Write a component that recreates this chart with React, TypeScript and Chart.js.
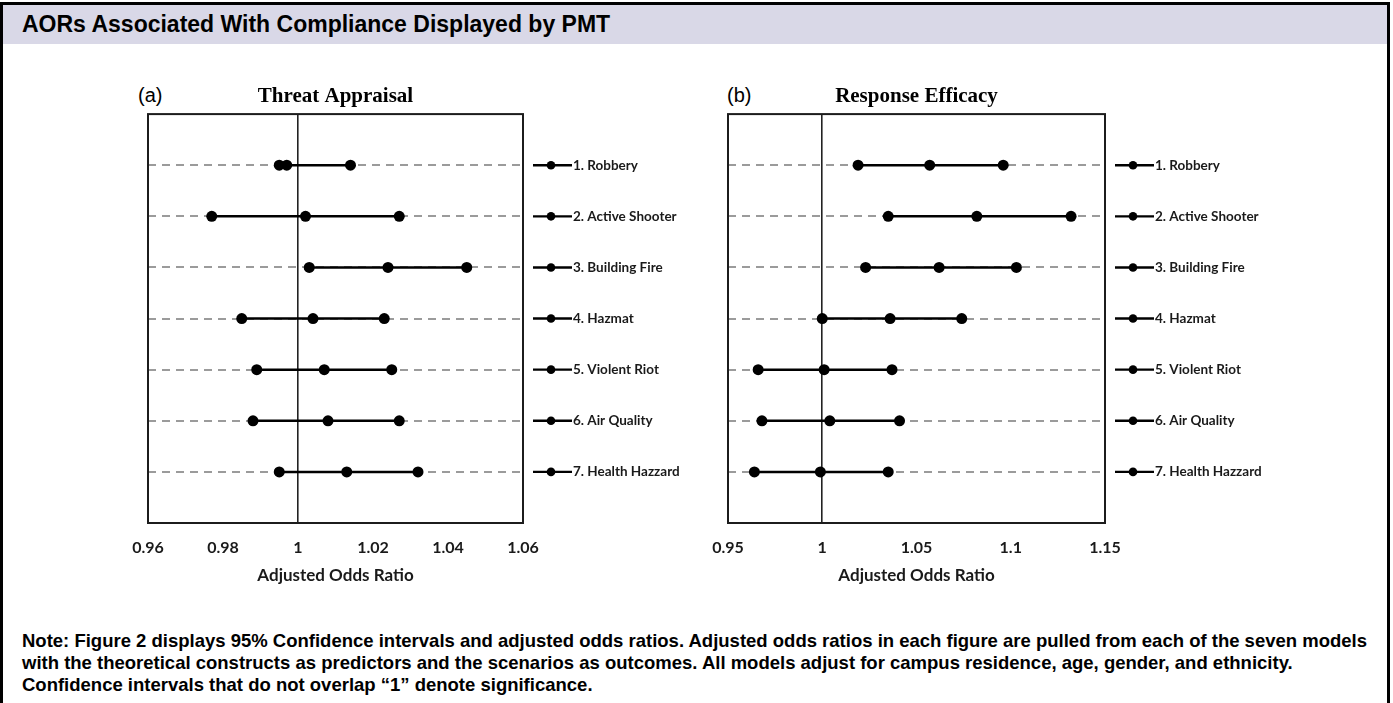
import React, { useEffect, useRef } from 'react';
import { Chart, registerables } from 'chart.js';

Chart.register(...registerables);

// ---------- data ----------
const categories = [
  '1. Robbery',
  '2. Active Shooter',
  '3. Building Fire',
  '4. Hazmat',
  '5. Violent Riot',
  '6. Air Quality',
  '7. Health Hazzard',
];

const threatLower = [0.995, 0.977, 1.003, 0.985, 0.989, 0.988, 0.995];
const threatAOR = [0.997, 1.002, 1.024, 1.004, 1.007, 1.008, 1.013];
const threatUpper = [1.014, 1.027, 1.045, 1.023, 1.025, 1.027, 1.032];

const responseLower = [1.019, 1.035, 1.023, 1.0, 0.966, 0.968, 0.964];
const responseAOR = [1.057, 1.082, 1.062, 1.036, 1.001, 1.004, 0.999];
const responseUpper = [1.096, 1.132, 1.103, 1.074, 1.037, 1.041, 1.035];

const threatTicks = [0.96, 0.98, 1, 1.02, 1.04, 1.06];
const threatTickLabels = ['0.96', '0.98', '1', '1.02', '1.04', '1.06'];
const responseTicks = [0.95, 1, 1.05, 1.1, 1.15];
const responseTickLabels = ['0.95', '1', '1.05', '1.1', '1.15'];

const referenceValue = 1;
const axisTitle = 'Adjusted Odds Ratio';

const UI_FONT = "Lato, 'Open Sans', sans-serif";
const HEAD_FONT = "'Liberation Sans', Arial, sans-serif";

const framePlugin = {
  id: 'panelFrame',
  afterDraw(chart: any) {
    const { ctx, chartArea: a, scales } = chart;
    ctx.save();
    ctx.strokeStyle = '#1c1c1c';
    ctx.lineWidth = 2;
    ctx.strokeRect(a.left, a.top, a.right - a.left, a.bottom - a.top);
    // legend markers next to category labels
    const ys = scales.y;
    ctx.strokeStyle = '#000';
    ctx.fillStyle = '#000';
    ctx.lineWidth = 2.4;
    categories.forEach((_, i) => {
      const py = ys.getPixelForValue(i + 1);
      ctx.beginPath();
      ctx.moveTo(a.right + 10, py);
      ctx.lineTo(a.right + 49, py);
      ctx.stroke();
      ctx.beginPath();
      ctx.arc(a.right + 28, py, 4.3, 0, Math.PI * 2);
      ctx.fill();
    });
    ctx.restore();
  },
};

function buildChart(
  canvas: HTMLCanvasElement,
  lower: number[],
  aor: number[],
  upper: number[],
  ticks: number[],
  tickLabels: string[],
  title: string,
  padding: { left: number; right: number; top: number; bottom: number }
) {
  const datasets = categories.map((c, i) => ({
    label: c,
    data: [
      { x: lower[i], y: i + 1 },
      { x: aor[i], y: i + 1 },
      { x: upper[i], y: i + 1 },
    ],
    showLine: true,
    borderColor: '#000',
    borderWidth: 2.5,
    pointRadius: 5.5,
    pointHoverRadius: 5.5,
    pointBackgroundColor: '#000',
    pointBorderWidth: 0,
  }));

  const rowTicks = Array.from({ length: categories.length + 2 }, (_, k) => k);

  return new Chart(canvas, {
    type: 'scatter',
    data: { datasets },
    plugins: [framePlugin],
    options: {
      responsive: false,
      animation: false,
      devicePixelRatio: 1,
      layout: { padding, autoPadding: false },
      plugins: {
        legend: { display: false },
        tooltip: { enabled: false },
        title: {
          display: true,
          text: title,
          fullSize: false,
          color: '#000',
          font: { family: "'Liberation Serif', 'DejaVu Serif', serif", size: 21, weight: 'bold' },
          padding: { top: 0, bottom: 5 },
        },
      },
      scales: {
        x: {
          type: 'linear',
          position: 'bottom',
          min: ticks[0],
          max: ticks[ticks.length - 1],
          afterBuildTicks: (s: any) => {
            s.ticks = ticks.map((v) => ({ value: v }));
          },
          afterFit: (s: any) => {
            s.height = 75;
          },
          ticks: {
            autoSkip: false,
            maxRotation: 0,
            padding: 15,
            color: '#1a1a1a',
            font: { family: UI_FONT, size: 16, weight: 'bold' },
            callback: (_v: any, idx: number) => tickLabels[idx],
          },
          grid: {
            drawTicks: false,
            lineWidth: 1.6,
            color: (ctx: any) =>
              ctx.tick && Math.abs(ctx.tick.value - referenceValue) < 1e-9 ? '#222' : 'rgba(0,0,0,0)',
          },
          border: { display: false },
          title: {
            display: true,
            text: axisTitle,
            color: '#1a1a1a',
            font: { family: UI_FONT, size: 17, weight: 'bold' },
            padding: { top: 0, bottom: 12 },
          },
        },
        y: {
          type: 'linear',
          position: 'right',
          min: 0,
          max: categories.length + 1,
          reverse: true,
          afterBuildTicks: (s: any) => {
            s.ticks = rowTicks.map((v) => ({ value: v }));
          },
          afterFit: (s: any) => {
            s.width = 175;
          },
          ticks: {
            autoSkip: false,
            padding: 50,
            color: '#1a1a1a',
            font: { family: UI_FONT, size: 13.5, weight: 'bold' },
            callback: (v: any) => categories[Number(v) - 1] ?? '',
          },
          grid: {
            drawTicks: false,
            lineWidth: 2,
            color: (ctx: any) =>
              ctx.tick && (ctx.tick.value === 0 || ctx.tick.value === categories.length + 1)
                ? 'rgba(0,0,0,0)'
                : '#9b9b9b',
          },
          border: { display: false, dash: [8, 6] },
        },
      },
    } as any,
  });
}

export default function App() {
  const refA = useRef<HTMLCanvasElement>(null);
  const refB = useRef<HTMLCanvasElement>(null);

  useEffect(() => {
    document.body.style.margin = '0';
    const a = buildChart(
      refA.current!,
      threatLower,
      threatAOR,
      threatUpper,
      threatTicks,
      threatTickLabels,
      'Threat Appraisal',
      { left: 148, right: 2, top: 0, bottom: 2 }
    );
    const b = buildChart(
      refB.current!,
      responseLower,
      responseAOR,
      responseUpper,
      responseTicks,
      responseTickLabels,
      'Response Efficacy',
      { left: 128, right: 113, top: 0, bottom: 2 }
    );
    return () => {
      a.destroy();
      b.destroy();
    };
  }, []);

  return (
    <div
      style={{
        position: 'fixed',
        left: 0,
        top: 0,
        width: 1393,
        height: 703,
        overflow: 'hidden',
        background: '#fff',
      }}
    >
      <div
        style={{
          position: 'absolute',
          left: 0,
          top: 2,
          width: 1390,
          height: 720,
          boxSizing: 'border-box',
          border: '3px solid #000',
          borderBottom: 'none',
        }}
      />
      <div
        style={{
          position: 'absolute',
          left: 3,
          top: 5,
          width: 1384,
          height: 39,
          background: '#d9d8e7',
        }}
      />
      <div
        style={{
          position: 'absolute',
          left: 22,
          top: 10,
          fontFamily: HEAD_FONT,
          fontWeight: 'bold',
          fontSize: 23,
          lineHeight: '28px',
          color: '#000',
          whiteSpace: 'nowrap',
        }}
      >
        AORs Associated With Compliance Displayed by PMT
      </div>
      <div
        style={{
          position: 'absolute',
          left: 138,
          top: 83,
          fontFamily: HEAD_FONT,
          fontSize: 20,
          lineHeight: '24px',
          color: '#000',
        }}
      >
        (a)
      </div>
      <div
        style={{
          position: 'absolute',
          left: 727,
          top: 83,
          fontFamily: HEAD_FONT,
          fontSize: 20,
          lineHeight: '24px',
          color: '#000',
        }}
      >
        (b)
      </div>
      <canvas
        ref={refA}
        width={700}
        height={544}
        style={{ position: 'absolute', left: 0, top: 56, width: 700, height: 544 }}
      />
      <canvas
        ref={refB}
        width={793}
        height={544}
        style={{ position: 'absolute', left: 600, top: 56, width: 793, height: 544 }}
      />
      <div
        style={{
          position: 'absolute',
          left: 22,
          top: 630,
          fontFamily: HEAD_FONT,
          fontWeight: 'bold',
          fontSize: 18.5,
          lineHeight: '22px',
          color: '#000',
          whiteSpace: 'nowrap',
        }}
      >
        Note: Figure 2 displays 95% Confidence intervals and adjusted odds ratios. Adjusted odds ratios in each
        figure are pulled from each of the seven models
        <br />
        with the theoretical constructs as predictors and the scenarios as outcomes. All models adjust for campus
        residence, age, gender, and ethnicity.
        <br />
        Confidence intervals that do not overlap “1” denote significance.
      </div>
    </div>
  );
}
